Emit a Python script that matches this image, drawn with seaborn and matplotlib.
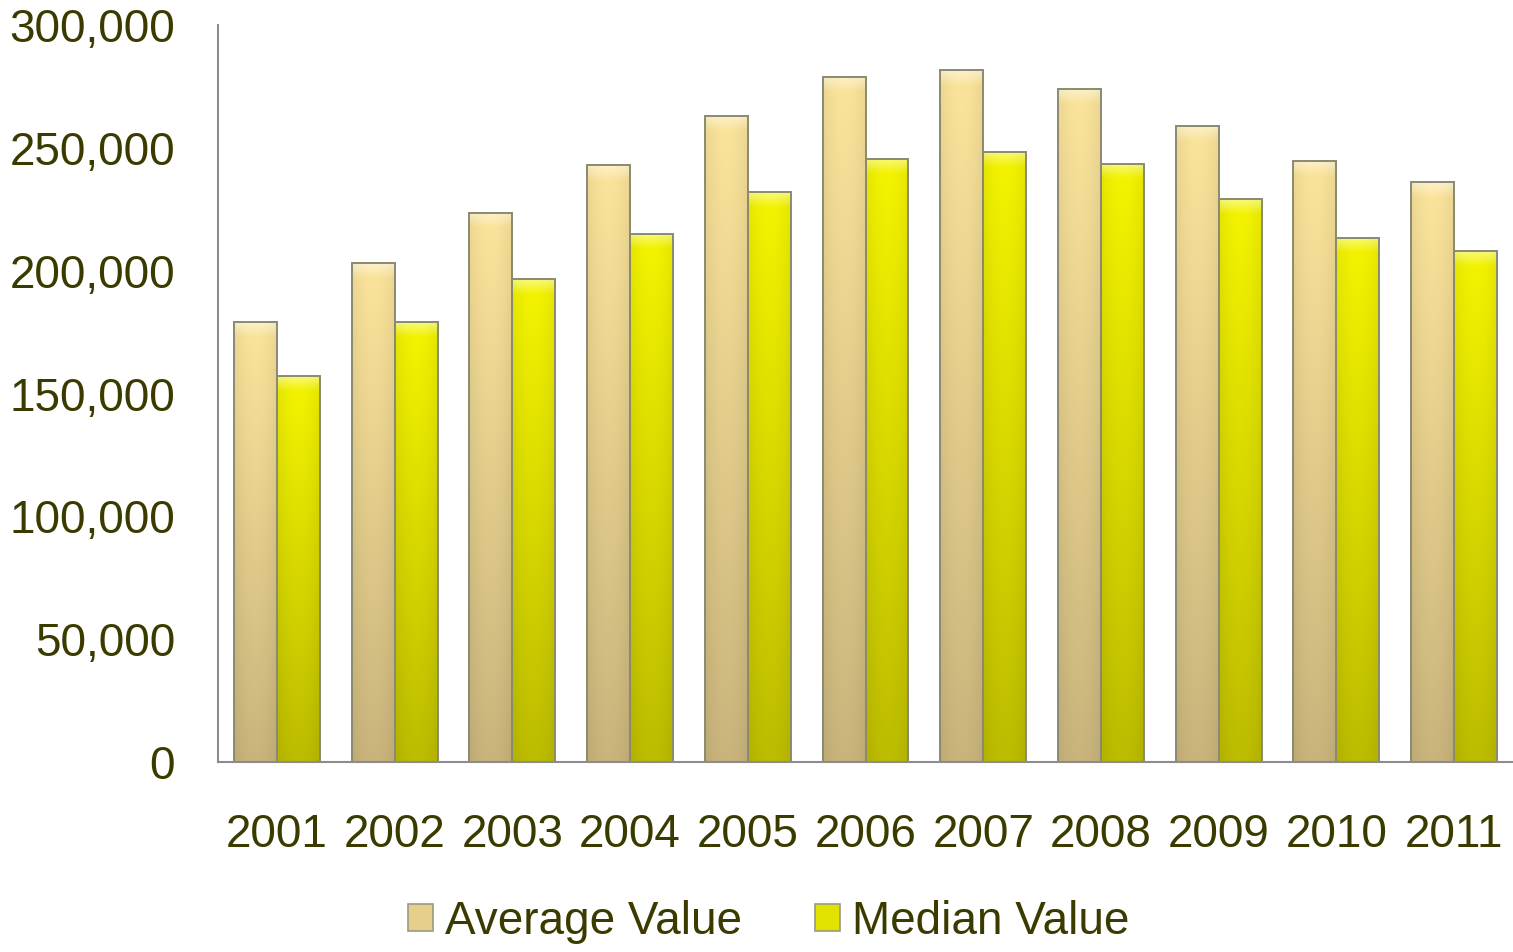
import numpy as np
import pandas as pd
import matplotlib
matplotlib.use("Agg")
import matplotlib.pyplot as plt
import seaborn as sns
from matplotlib.colors import to_rgb
from matplotlib.patches import Patch

years = ["2001", "2002", "2003", "2004", "2005", "2006",
         "2007", "2008", "2009", "2010", "2011"]
average_value = [179000, 203000, 223500, 243000, 263000, 279000,
                 281500, 274000, 259000, 244800, 236000]
median_value = [157000, 179000, 196500, 215000, 232000, 245500,
                248500, 243500, 229000, 213500, 208000]
series_names = ["Average Value", "Median Value"]
y_ticks = [0, 50000, 100000, 150000, 200000, 250000, 300000]

df = pd.DataFrame({
    "Year": years * 2,
    "Value": average_value + median_value,
    "Series": [series_names[0]] * len(years) + [series_names[1]] * len(years),
})

text_color = "#3b3b00"
# top / bottom shades for the gradient fill of each series
shades = {
    series_names[0]: ("#fbe49a", "#c9b47c"),
    series_names[1]: ("#f4f400", "#bcbc00"),
}
legend_colors = {series_names[0]: "#e4cf8c", series_names[1]: "#e2e200"}

sns.set_theme(style="white")
plt.rcParams["font.family"] = ["Liberation Sans", "DejaVu Sans"]

fig = plt.figure(figsize=(15.13, 9.52), dpi=100)
ax = fig.add_axes([0.1441, 0.1996, 0.8559, 0.7741])

sns.barplot(data=df, x="Year", y="Value", hue="Series", order=years,
            hue_order=series_names, palette=legend_colors, width=0.73,
            gap=0, legend=False, ax=ax, saturation=1,
            edgecolor="#8a8a70", linewidth=1.4)

# gradient fill clipped to each bar, with a light bevel along the top
n_bars = len(years)
for i, p in enumerate(ax.patches):
    name = series_names[i // n_bars]
    top, bot = np.array(to_rgb(shades[name][0])), np.array(to_rgb(shades[name][1]))
    x0, w, h = p.get_x(), p.get_width(), p.get_height()
    ny, nx = 200, 40
    t = np.linspace(0, 1, ny)[:, None, None]          # 0 at top, 1 at bottom
    col = top * (1 - t) + bot * t
    # subtle horizontal shading: lighter toward the middle
    u = np.linspace(-1, 1, nx)[None, :, None]
    col = col * (1 - 0.06 * u ** 2)
    # bevel highlight near the top of the bar
    hl_frac = 14.0 / (h / 300000 * 737)
    bevel = np.clip(1 - np.linspace(0, 1, ny) / max(hl_frac, 1e-3), 0, 1)[:, None, None]
    col = col + (1 - col) * 0.45 * bevel
    col = np.clip(col * np.ones((ny, nx, 1)), 0, 1)
    im = ax.imshow(col, extent=[x0, x0 + w, 0, h], aspect="auto",
                   origin="upper", zorder=1.5, interpolation="bilinear")
    im.set_clip_path(p)
    p.set_facecolor("none")
    p.set_zorder(2)

ax.set_xlim(-0.5, len(years) - 0.5)
ax.set_ylim(0, 300000)
ax.set_yticks(y_ticks)
ax.set_yticklabels([f"{v:,}" for v in y_ticks])
ax.set_xlabel("")
ax.set_ylabel("")
ax.tick_params(axis="both", length=0, labelsize=33, colors=text_color)
ax.tick_params(axis="y", pad=31)
ax.tick_params(axis="x", pad=37)

for side in ["top", "right"]:
    ax.spines[side].set_visible(False)
for side in ["left", "bottom"]:
    ax.spines[side].set_color("#8c8c8c")
    ax.spines[side].set_linewidth(1.5)
ax.grid(False)

handles = [Patch(facecolor=legend_colors[s], edgecolor="#9a9a80", linewidth=1.2)
           for s in series_names]
fig.legend(handles, series_names, loc="center", bbox_to_anchor=(0.508, 0.032),
           ncol=2, frameon=False, fontsize=33, labelcolor=text_color,
           handlelength=0.55, handleheight=0.55, handletextpad=0.25,
           columnspacing=1.6, borderpad=0)

fig.savefig("out.png", dpi=100)
